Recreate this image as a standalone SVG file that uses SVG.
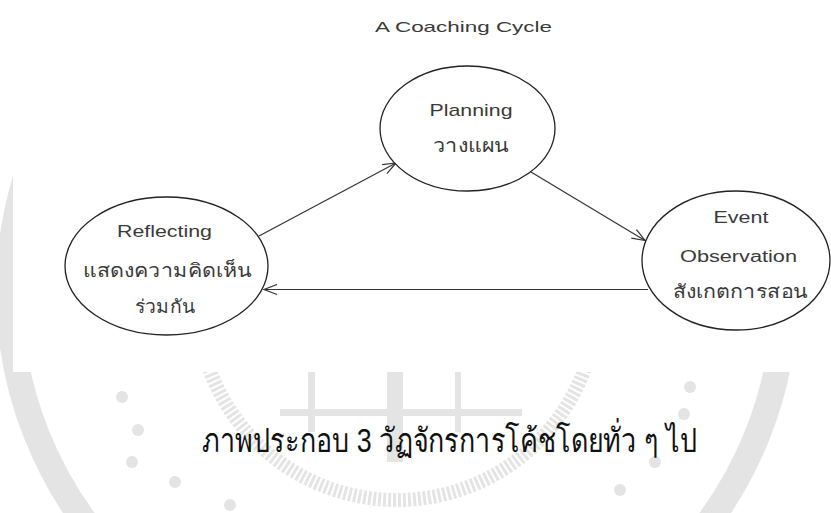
<svg xmlns="http://www.w3.org/2000/svg" width="831" height="513" viewBox="0 0 831 513">
<defs>
<style>
.wm{fill:none;stroke:#e4e4e4}
.wmf{fill:#e4e4e4}
.node{fill:#fff;stroke:#222;stroke-width:1.3}
.lbl{font-family:"Liberation Sans","DejaVu Sans","Noto Sans",sans-serif;fill:#3a3a3a;text-anchor:middle}
.th{font-family:"Liberation Sans","DejaVu Sans","Noto Sans",sans-serif;fill:#3a3a3a;text-anchor:middle}
.edge{fill:none;stroke:#333;stroke-width:1.2}
</style>
<marker id="arr" markerUnits="userSpaceOnUse" markerWidth="16" markerHeight="12" viewBox="-14 -6 16 12" refX="0" refY="0" orient="auto">
<path d="M-13,-5 L0,0 L-13,5" fill="none" stroke="#333" stroke-width="1.2"/>
</marker>
</defs>
<rect width="831" height="513" fill="#fff"/>
<g id="watermark">
<circle class="wm" cx="397" cy="291" r="388" stroke-width="26"/>
<circle class="wm" cx="397" cy="300" r="200" stroke-width="14" stroke-dasharray="3 2"/>
<g class="wmf">
<circle cx="122" cy="397" r="6"/><circle cx="138" cy="430" r="6"/><circle cx="132" cy="462" r="6"/><circle cx="175" cy="482" r="6"/><circle cx="230" cy="505" r="6"/>
<circle cx="690" cy="387" r="6"/><circle cx="684" cy="414" r="6"/><circle cx="655" cy="462" r="6"/><circle cx="620" cy="490" r="6"/>
<rect x="280" y="409" width="242" height="7"/>
<rect x="308" y="372" width="7" height="60"/>
<rect x="387" y="372" width="16" height="90"/>
<rect x="455" y="372" width="6" height="60"/>
</g>
<rect x="13" y="0" width="818" height="372" fill="#fff"/>
</g>
<text class="lbl" x="463.5" y="32" font-size="15" textLength="177" lengthAdjust="spacingAndGlyphs">A Coaching Cycle</text>
<g id="connectors">
<line class="edge" x1="259" y1="236" x2="396" y2="163" marker-end="url(#arr)"/>
<line class="edge" x1="531" y1="172" x2="645" y2="240.5" marker-end="url(#arr)"/>
<line class="edge" x1="648" y1="289.5" x2="264" y2="289.5" marker-end="url(#arr)"/>
</g>
<g id="planning">
<ellipse class="node" cx="467.5" cy="128.5" rx="87.5" ry="62.5"/>
<text class="lbl" x="471" y="116" font-size="17" textLength="83" lengthAdjust="spacingAndGlyphs">Planning</text>
<text class="th" x="471" y="152" font-size="19" textLength="76" lengthAdjust="spacingAndGlyphs">วางแผน</text>
</g>
<g id="reflecting">
<ellipse class="node" cx="166.5" cy="266" rx="101.5" ry="69"/>
<text class="lbl" x="164.5" y="237" font-size="16" textLength="95" lengthAdjust="spacingAndGlyphs">Reflecting</text>
<text class="th" x="167.5" y="277" font-size="19" textLength="169" lengthAdjust="spacingAndGlyphs">แสดงความคิดเห็น</text>
<text class="th" x="165" y="313" font-size="19" textLength="60" lengthAdjust="spacingAndGlyphs">ร่วมกัน</text>
</g>
<g id="event">
<ellipse class="node" cx="736" cy="260.5" rx="94" ry="69.5"/>
<text class="lbl" x="741" y="223" font-size="16" textLength="55" lengthAdjust="spacingAndGlyphs">Event</text>
<text class="lbl" x="738.5" y="262" font-size="16" textLength="117" lengthAdjust="spacingAndGlyphs">Observation</text>
<text class="th" x="740" y="298" font-size="19" textLength="135" lengthAdjust="spacingAndGlyphs">สังเกตการสอน</text>
</g>
<text id="caption" x="449.5" y="452" font-family="'Liberation Sans','DejaVu Sans','Noto Sans',sans-serif" font-size="33" fill="#111" text-anchor="middle" textLength="495" lengthAdjust="spacingAndGlyphs">ภาพประกอบ 3 วัฏจักรการโค้ชโดยทั่ว ๆ ไป</text>
</svg>
